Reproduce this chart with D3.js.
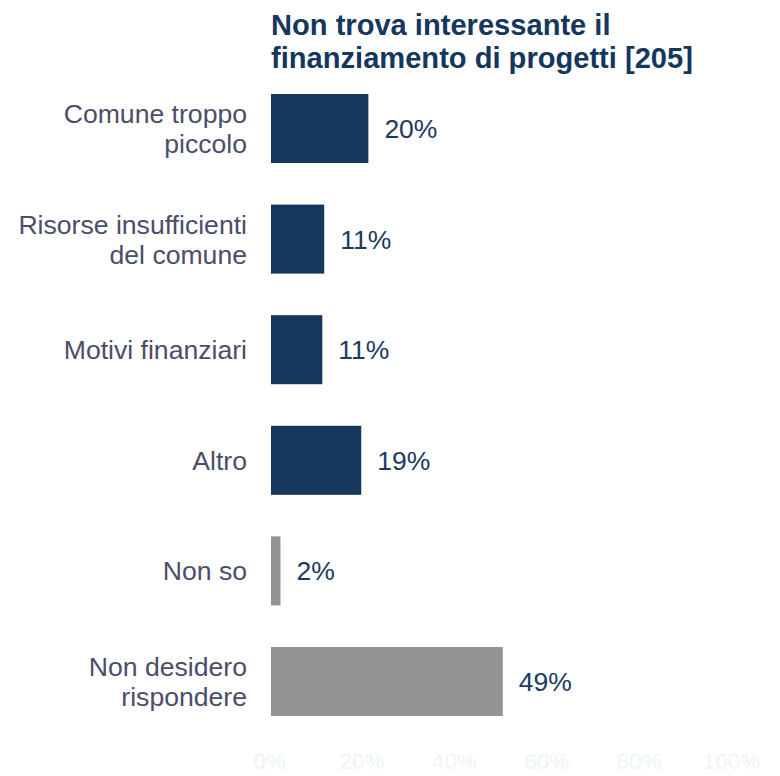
<!DOCTYPE html>
<html><head><meta charset="utf-8">
<script src="https://cdn.jsdelivr.net/npm/d3@7"></script>
<style>body{margin:0;background:#fff}svg{display:block}</style>
</head><body>
<script>
const categories = [["Comune troppo","piccolo"],["Risorse insufficienti","del comune"],["Motivi finanziari"],["Altro"],["Non so"],["Non desidero","rispondere"]];
const values = [20.5, 11.2, 10.8, 19.0, 2.0, 48.8];
const valueLabels = ["20%","11%","11%","19%","2%","49%"];
const barColors = ["#15375e","#15375e","#15375e","#15375e","#939393","#939393"];
const tickValues = [0,20,40,60,80,100];
const titleLines = ["Non trova interessante il","finanziamento di progetti [205]"];

const W=780,H=776;
const svg=d3.select("body").append("svg").attr("width",W).attr("height",H);
const font="Liberation Sans, Arial, sans-serif";
const ids=d3.range(values.length);
const x=d3.scaleLinear().domain([0,100]).range([271,746]);
const xAxisScale=d3.scaleLinear().domain([0,100]).range([269,731]);
const y=d3.scaleBand().domain(ids).range([73.2,736.8]).paddingInner(0.376).paddingOuter(0.188);

svg.append("text").attr("font-family",font).attr("font-weight","bold").attr("font-size",29.1)
  .attr("fill","#15375e").selectAll("tspan").data(titleLines).join("tspan")
  .attr("x",271).attr("y",(d,i)=>35+i*33).text(d=>d);

svg.append("g").selectAll("rect").data(ids).join("rect")
  .attr("x",x(0)).attr("y",i=>y(i)).attr("width",i=>x(values[i])-x(0)).attr("height",y.bandwidth())
  .attr("fill",i=>barColors[i]);

svg.append("g").selectAll("text").data(ids).join("text")
  .attr("x",i=>x(values[i])+16).attr("y",i=>y(i)+y.bandwidth()/2+9.5)
  .attr("font-family",font).attr("font-size",26.5).attr("fill","#1b3a60").text(i=>valueLabels[i]);

const cat=svg.append("g").selectAll("text").data(ids).join("text")
  .attr("text-anchor","end").attr("font-family",font).attr("font-size",26.6).attr("fill","#4b4e6b");
cat.each(function(i){
  const lines=categories[i], n=lines.length, c=y(i)+y.bandwidth()/2;
  d3.select(this).selectAll("tspan").data(lines).join("tspan")
    .attr("x",247).attr("y",(d,k)=>c+9.5+(k-(n-1)/2)*30).text(d=>d);
});

const axis=d3.axisBottom(xAxisScale).tickValues(tickValues).tickFormat(d=>d+"%").tickSize(0);
const ag=svg.append("g").attr("transform","translate(0,750)").call(axis);
ag.select(".domain").remove();
ag.selectAll("text").attr("font-family",font).attr("font-size",22.5).attr("fill","#eef4fa").attr("dy","0.71em");
</script>
</body></html>
